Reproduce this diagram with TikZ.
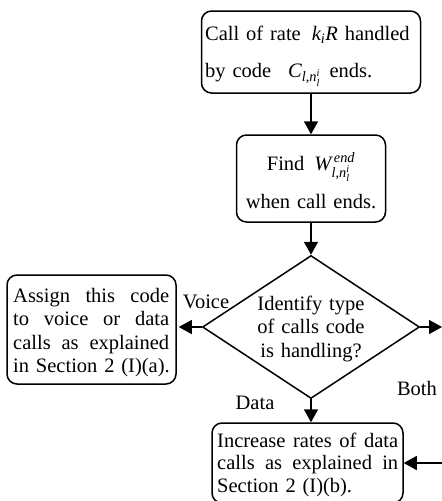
\documentclass[tikz,border=0pt]{standalone}
\usepackage{amsmath}
\usepackage{fontspec}
\setmainfont{Liberation Serif}
\usetikzlibrary{arrows.meta,shapes.geometric}
\newcommand{\ti}[1]{\textit{#1}}
\newcommand{\jline}[2]{\leavevmode\hbox to #1{#2}}
\begin{document}
\begin{tikzpicture}[x=1pt,y=-1pt,
  box/.style={draw,line width=1.5pt,rounded corners=10pt,inner sep=0pt},
  txt/.style={inner sep=0pt,font=\fontsize{20.5}{23.5}\selectfont},
  arr/.style={line width=1.5pt,-{Triangle[length=13pt,width=14pt]}}]
\useasboundingbox (0,0) rectangle (442,501);
% boxes
\node[box,minimum width=219pt,minimum height=82pt] (b1) at (311,52) {};
\node[txt,anchor=base west,text width=214pt,align=left,font=\fontsize{20.5}{37}\selectfont] (t1) at (205,40)
  {Call of rate\hspace{11pt}$\ti{k}_{\ti{i}}\ti{R}$ handled\\by code\hspace{17pt}$\ti{C}_{\ti{l}\text{,}\ti{n}_{\ti{l}}^{\ti{i}}}$\hspace{9pt}ends.};
\node[box,minimum width=149pt,minimum height=87pt] (b2) at (311,178.5) {};
\node[txt,anchor=base,text width=140pt,align=center,font=\fontsize{20.5}{38}\selectfont] (t2) at (311,170)
  {Find\hspace{10pt}$\ti{W}^{\,\ti{end}}_{\ti{l}\text{,}\ti{n}_{\ti{l}}^{\ti{i}}}$\\when call ends.};
\node[draw,diamond,line width=1.5pt,minimum width=217pt,minimum height=143pt,inner sep=0pt] (d) at (311,327) {};
\node[txt,anchor=base,text width=130pt,align=center] (dt) at (311,310)
  {Identify type\\of calls code\\is handling?};
\node[box,minimum width=169pt,minimum height=109pt] (lb) at (91.5,329.5) {};
\node[txt,anchor=base west,text width=200pt,align=left] (lt) at (13,302)
  {\jline{156pt}{Assign\hfill this\hfill code}\\\jline{156pt}{to\hfill voice\hfill or\hfill data}\\\jline{156pt}{calls\hfill as\hfill explained}\\in Section 2 (I)(a).};
\node[box,minimum width=191pt,minimum height=80pt] (bb) at (307.5,463) {};
\node[txt,anchor=base west,text width=220pt,align=left,font=\fontsize{20.5}{22.5}\selectfont] (bt) at (217,447)
  {\jline{181pt}{Increase\hfill rates\hfill of\hfill data}\\\jline{181pt}{calls\hfill as\hfill explained\hfill in}\\Section 2 (I)(b).};
% labels
\node[txt,anchor=base] (lv) at (206,308) {Voice};
\node[txt,anchor=base] (lboth) at (417,395) {Both};
\node[txt,anchor=base] (ldata) at (255,409) {Data};
\coordinate (rout) at (442,327);
\coordinate (rin) at (442,463);
% connectors
\draw[arr] (b1.south) -- (b1.south |- b2.north);
\draw[arr] (b2.south) -- (d.north);
\draw[arr,shorten >=2pt] (d.west) -- (d.west -| lb.east);
\draw[arr] (d.east) -- (rout);
\draw[arr] (d.south) -- (d.south |- bb.north);
\draw[arr] (rin) -- (bb.east);
\end{tikzpicture}
\end{document}
